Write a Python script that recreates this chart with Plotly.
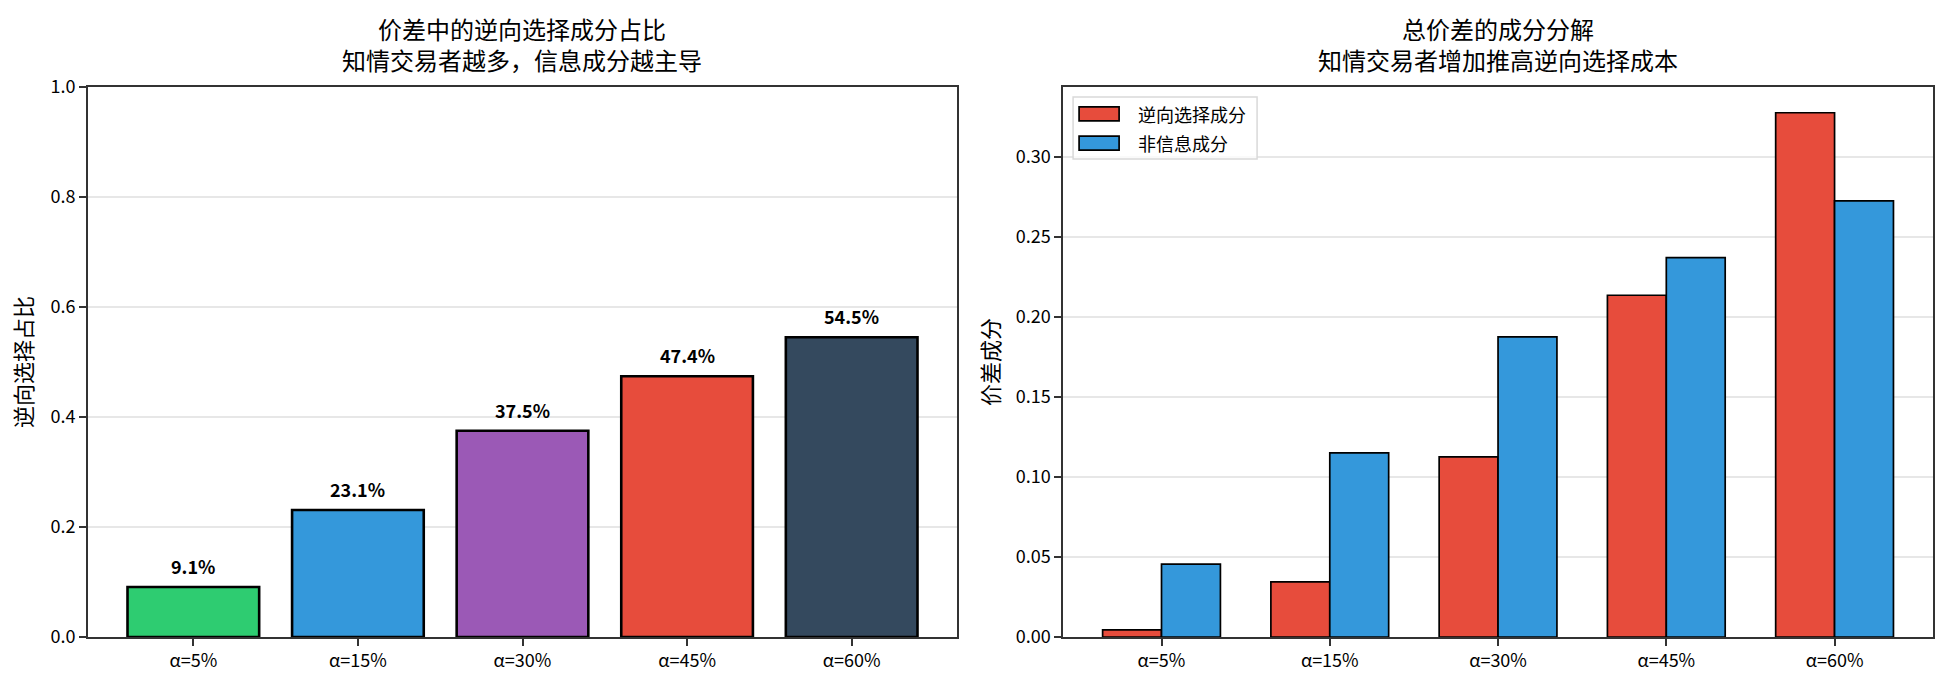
import plotly.graph_objects as go

categories = ["α=5%", "α=15%", "α=30%", "α=45%", "α=60%"]
adverse_share = [0.091, 0.231, 0.375, 0.474, 0.545]
share_labels = ["9.1%", "23.1%", "37.5%", "47.4%", "54.5%"]
share_colors = ["#2ecc71", "#3498db", "#9b59b6", "#e74c3c", "#34495e"]
adverse_comp = [0.0045, 0.0345, 0.1125, 0.2135, 0.3275]
noninfo_comp = [0.0455, 0.1150, 0.1875, 0.2370, 0.2725]

FONT = "Noto Sans CJK SC, Noto Sans, sans-serif"
fig = go.Figure()

fig.add_trace(go.Bar(x=categories, y=adverse_share, marker=dict(color=share_colors, line=dict(color="black", width=2.6)),
                     width=0.8, xaxis="x", yaxis="y", showlegend=False))
fig.add_trace(go.Bar(x=categories, y=adverse_comp, name="逆向选择成分",
                     marker=dict(color="#e74c3c", line=dict(color="black", width=1.7)),
                     width=0.35, offset=-0.35, xaxis="x2", yaxis="y2", showlegend=False))
fig.add_trace(go.Bar(x=categories, y=noninfo_comp, name="非信息成分",
                     marker=dict(color="#3498db", line=dict(color="black", width=1.7)),
                     width=0.35, offset=0.0, xaxis="x2", yaxis="y2", showlegend=False))

annotations = []
for c, v, t in zip(categories, adverse_share, share_labels):
    annotations.append(dict(x=c, y=v, xref="x", yref="y", text=t, showarrow=False, yanchor="bottom",
                            yshift=6, font=dict(family=FONT, size=18, color="black", weight="bold")))

annotations.append(dict(x=0.5, y=1, xref="x domain", yref="y domain", yanchor="bottom", yshift=8,
                        text="价差中的逆向选择成分占比<br>知情交易者越多，信息成分越主导", showarrow=False,
                        font=dict(family=FONT, size=24, color="black")))
annotations.append(dict(x=0.5, y=1, xref="x2 domain", yref="y2 domain", yanchor="bottom", yshift=8,
                        text="总价差的成分分解<br>知情交易者增加推高逆向选择成本", showarrow=False,
                        font=dict(family=FONT, size=24, color="black")))

# legend (manual)
shapes = []
shapes.append(dict(type="rect", xref="x2 domain", yref="y2 domain", x0=0.0115, x1=0.223, y0=0.869, y1=0.982,
                   line=dict(color="#d9d9d9", width=1.5), fillcolor="rgba(255,255,255,0.8)", layer="above"))
leg = [("逆向选择成分", "#e74c3c", 0.951), ("非信息成分", "#3498db", 0.898)]
for name, col, yc in leg:
    shapes.append(dict(type="rect", xref="x2 domain", yref="y2 domain", x0=0.0184, x1=0.0644,
                       y0=yc - 0.0127, y1=yc + 0.0127, line=dict(color="black", width=1.7), fillcolor=col, layer="above"))
    annotations.append(dict(x=0.0839, y=yc, xref="x2 domain", yref="y2 domain", xanchor="left", yanchor="middle",
                            text=name, showarrow=False, font=dict(family=FONT, size=18, color="black")))

axis_common = dict(showline=True, linecolor="#333333", linewidth=1.6, mirror=True, ticks="outside",
                   ticklen=7, tickwidth=1.6, tickcolor="#333333", layer="above traces",
                   tickfont=dict(family=FONT, size=18, color="black"))
fig.update_layout(
    width=1946, height=685, margin=dict(l=88, r=13, t=87, b=48),
    plot_bgcolor="white", paper_bgcolor="white", barmode="overlay",
    xaxis=dict(domain=[0, 0.471], type="category", range=[-0.64, 4.64], showgrid=False, anchor="y", **axis_common),
    yaxis=dict(range=[0, 1], dtick=0.2, tickformat=".1f", showgrid=True, gridcolor="rgba(176,176,176,0.3)",
               gridwidth=1.5, zeroline=False, anchor="x",
               title=dict(text="逆向选择占比", font=dict(family=FONT, size=22, color="black"), standoff=12),
               **axis_common),
    xaxis2=dict(domain=[0.5285, 1], type="category", range=[-0.585, 4.585], showgrid=False, anchor="y2", **axis_common),
    yaxis2=dict(range=[0, 0.3436], dtick=0.05, tickformat=".2f", showgrid=True, gridcolor="rgba(176,176,176,0.3)",
                gridwidth=1.5, zeroline=False, anchor="x2",
                title=dict(text="价差成分", font=dict(family=FONT, size=22, color="black"), standoff=10),
                **axis_common),
    annotations=annotations, shapes=shapes, showlegend=False,
)

fig.write_html("out.html")
